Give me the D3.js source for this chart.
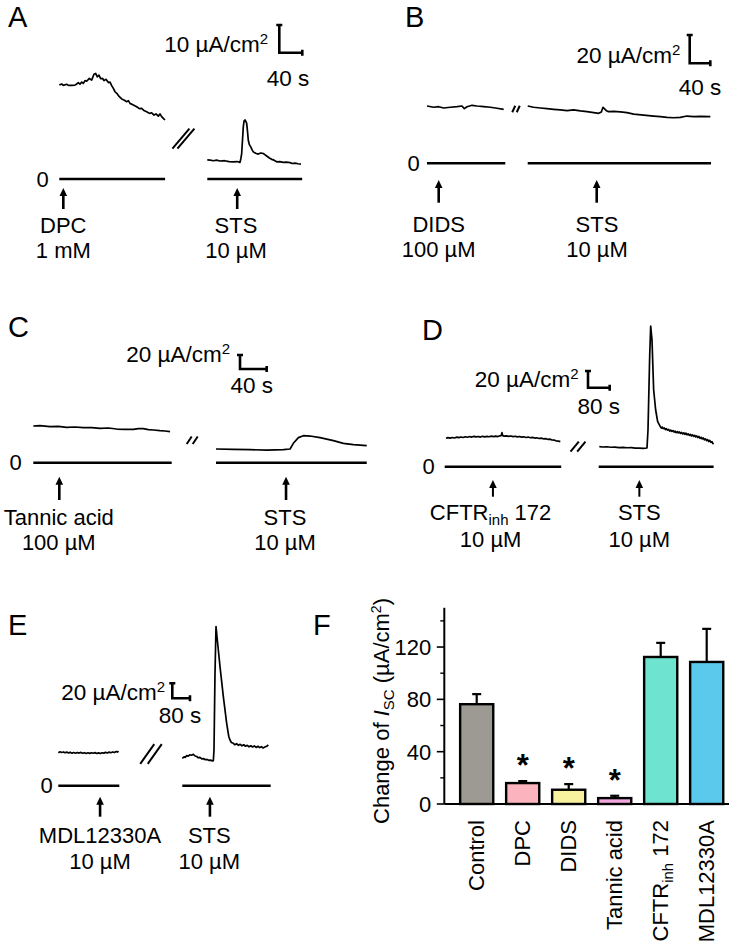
<!DOCTYPE html>
<html><head><meta charset="utf-8">
<script src="https://cdn.jsdelivr.net/npm/d3@7/dist/d3.min.js"></script>
<style>body{margin:0;background:#fff}svg{display:block}</style>
</head><body><svg id="fig" width="735" height="947"></svg>
<script>
// ===== DATA (time s, current µA/cm²) =====
const traceA_DPC = [[0,33.9],[4.1,34.3],[7,33.8],[12.8,34.2],[15.7,33.8],[21.5,33.8],[27.3,33.9],[30.2,34.3],[33.1,34.8],[36,34.2],[38.9,35.0],[41.8,34.5],[44.7,35.5],[47.6,35.3],[52.2,36.3],[56.3,35.7],[60.3,37.8],[63.2,38.1],[66.1,36.9],[69,37.5],[71.9,36.2],[75.4,36.3],[77.7,35.5],[81.2,36.0],[85.3,34.8],[88.2,35.0],[91.1,33.7],[94,32.7],[96.9,31.5],[100.9,30.7],[104.4,29.7],[108.5,28.9],[112.5,28.5],[117.2,27.9],[120.1,28.3],[123,27.3],[128.8,26.7],[134.6,26.1],[139.2,25.4],[143.3,25.5],[147.3,24.7],[151.9,24.3],[156.6,23.7],[160.6,23.9],[164.7,23.1],[168.2,23.5],[172.2,22.7],[175.1,23.5],[178,22.5],[180.9,21.9],[183.8,21.3]];
const traceA_STS = [[0,6.9],[5,6.8],[10.6,6.6],[16,6.8],[22.1,6.5],[30,6.6],[38,6.3],[45.2,6.2],[52,6.3],[56.9,6.0],[58.5,7.5],[59.8,9.2],[61.2,14],[62.6,18.8],[64,21.0],[65.6,21.3],[67,20.8],[68.5,20.1],[70,17],[71.3,14.0],[73,12.5],[75.5,11.6],[78,10.5],[80,9.8],[84,9.3],[88.7,9.0],[93,9.4],[97.4,9.2],[100,8.8],[103.3,8.3],[108,7.6],[112,7.1],[116,6.8],[120.7,6.2],[126,6.3],[132.2,6.0],[138,6.1],[143.8,5.9],[148,5.6],[152.5,5.7],[158,5.5],[162.9,5.4]];
const traceB_DIDS = [[0,40.5],[12.9,39.6],[22.7,40.0],[32.4,39.1],[45.3,39.6],[58.3,40.0],[68,40.5],[72.5,38.6],[77.7,40.0],[87.4,41.0],[97.1,40.5],[110,40.0],[123,39.6],[135.9,38.9],[148.9,38.1]];
const traceB_STS = [[0,40.5],[11.6,39.6],[24.5,39.1],[37.5,38.6],[50.4,38.1],[63.4,37.7],[76.3,37.2],[89.3,37.7],[102.2,37.0],[115.1,36.5],[128.1,35.8],[137.8,35.3],[143,36.3],[146.2,39.6],[148.8,38.6],[152.7,37.2],[157.2,36.5],[166.9,36.7],[179.9,36.3],[192.8,35.8],[205.8,34.8],[225.2,34.1],[244.6,33.4],[257.5,33.0],[270.5,32.5],[283.4,32.2],[296.4,32.5],[309.3,33.4],[322.3,33.0],[335.2,33.2],[354.6,33.0]];
const traceC_TA = [[0,52.4],[10,52.9],[25,51.5],[37.5,52.0],[50,50.5],[62.5,51.0],[75,50.0],[87.5,50.0],[100,49.1],[112.5,49.6],[125,48.1],[137.5,47.7],[150,47.7],[157.5,48.6],[165,48.6],[172.5,47.2],[180,46.7],[190,45.8],[197.5,45.3],[205,44.3]];
const traceC_STS = [[0,19.6],[26,19.1],[51,18.6],[76,18.1],[101,18.6],[111,19.6],[116,27.7],[123.5,35.8],[131,38.6],[141,38.1],[156,35.8],[176,31.5],[191,27.7],[206,25.8],[226,24.3]];
const traceD_CFTR = [[4.8,34.0],[12,34.8],[20,34.2],[28,35.0],[36,34.4],[45,35.4],[52,34.8],[60,35.6],[68,35.0],[76,35.9],[84,35.3],[92,36.1],[100,35.5],[108,36.3],[116,35.7],[124,36.2],[132,35.5],[140,36.4],[148,35.8],[156,36.3],[164,35.9],[172,36.6],[180,36.0],[188,36.7],[196,36.1],[204,37.0],[208,37.2],[211.4,40.8],[214,37.2],[220,36.6],[228,37.0],[236,36.3],[244,36.8],[252,36.0],[260,36.5],[268,35.7],[276,36.2],[284,35.4],[292,35.8],[300,35.0],[308,35.5],[316,34.7],[324,35.1],[332,34.3],[340,34.6],[348,33.8],[356,34.2],[364,33.4],[372,33.6],[380,32.8],[388,33.0],[396,32.0],[404,31.9],[412,30.8],[420,30.6],[426.7,30.0]];
const traceD_STS = [[2.3,24.0],[15,23.6],[30,23.9],[45,23.3],[60,23.4],[75,22.9],[90,23.1],[105,22.7],[120,22.8],[135,22.3],[150,22.3],[165,22.0],[178.2,22.4],[181.9,44.0],[188.1,131.8],[191.8,168.5],[196.7,151.7],[202.8,91.9],[210.2,67.9],[217.6,53.9],[227.4,48.0],[231,46.2],[234,47.5],[238,45.6],[242,46.4],[246,44.5],[250,45.5],[254,43.8],[258,44.6],[262,42.7],[266,43.8],[270,42.2],[274,43.3],[278,41.5],[282,42.6],[286,40.8],[290,42.0],[294,40.4],[298,41.6],[302,39.8],[306,41.0],[310,39.2],[314,40.6],[318,38.8],[322,40.2],[326,38.2],[330,39.4],[334,37.5],[338,38.8],[342,36.8],[346,38.2],[350,36.4],[354,37.6],[358,35.6],[362,36.8],[366,34.8],[370,36.2],[374,34.0],[378,35.2],[382,33.2],[386,34.4],[390,32.2],[394,33.4],[398,31.2],[402,32.4],[406,30.2],[410,31.4],[414,29.2],[418,30.0],[421,28.0],[424.2,27.2]];
const traceE_MDL = [[0,44.0],[8,45.2],[15,44.3],[23,45.0],[30,44.0],[38,44.8],[46,43.7],[54,44.5],[62,43.4],[70,44.2],[78,43.3],[86,44.3],[94,43.5],[102,44.4],[110,43.2],[118,44.0],[126,43.0],[134,43.9],[142,43.1],[150,44.0],[158,43.3],[166,44.1],[174,43.0],[182,43.8],[190,42.9],[198,43.9],[206,43.4],[214,44.4],[222,43.6],[230,44.8],[238,44.0],[246,45.0],[254,44.2],[262,45.6],[268,44.8],[272,46.2]];
const traceE_STS = [[0,36.5],[8,38.5],[14,37.8],[20,40.2],[27,39.4],[34,41.2],[42,40.6],[50,41.8],[58,39.6],[65,39.0],[72,37.2],[80,37.8],[88,35.8],[96,36.2],[104,34.6],[112,35.0],[120,33.8],[128,34.2],[136,33.0],[140.4,33.4],[143.4,47.6],[148,149.8],[152.5,212],[158.5,194.3],[170.6,158.7],[185.7,118.7],[200.8,83.2],[210,66],[215.8,60.9],[222,57.6],[230.9,56.5],[238,54.6],[246,56.0],[254,53.8],[262,55.2],[270,53.2],[278,54.6],[286,52.6],[294,53.8],[302,51.8],[310,53.2],[318,51.6],[326,53.0],[334,51.0],[342,52.6],[350,50.8],[358,52.0],[366,50.3],[374,51.8],[382,52.6],[389.3,54.3]];
const segDurations = [[184,165],[152,356],[207.5,226],[430,424],[276,400]];
const arrowTimes = [[7,52],[22.7,134],[39,105],[178,150],[189,125]];
const scaleBarAmp = [10,20,20,20,20];
const scaleBarTime = [40,40,40,80,80];
const drugNames = ["DPC","DIDS","Tannic acid","CFTR|inh| 172","MDL12330A"];
const drugDoses = ["1 mM","100 µM","100 µM","10 µM","10 µM"];

// Panel F
const categories = ["Control","DPC","DIDS","Tannic acid","CFTR|inh| 172","MDL12330A"];
const meanValues = [76.3,16,10.9,4.5,112.4,108.6];
const errorTops = [84.0,17.5,15.2,6.3,123.2,133.9];
const significant = [false,true,true,true,false,false];
const barColors = ["#9d9993","#fbb4bd","#f8f19d","#f2a8de","#6ee3cf","#5bc9ec"];
const yTicksMajor = [0,40,80,120];
const yTicksMinor = [20,60,100,140];

// ===== DRAWING =====
const FONT = "'Liberation Sans', Arial, Helvetica, sans-serif";
const svg = d3.select('#fig').attr('font-family', FONT);
const FS = 22;

function richText(sel, str) {
  const parts = str.split('|');
  parts.forEach((p, i) => {
    if (!p) return;
    if (i % 2 === 1) {
      sel.append('tspan').attr('font-size', FS * 0.68).attr('dy', 5).text(p);
    } else {
      const t = sel.append('tspan').text(p);
      if (i > 0) t.attr('dy', -5);
    }
  });
}

const layouts = [
  {letter:'A', lx:8, ly:27, zeroY:179, ppu:2.77, pps:0.575, x0:[59.3,207.3], zx:42.7,
   arrowTop:9, arrowBot:30, lab1:54, lab2:79, labX:[63.3,236], sb:[279.3,52.7], sbTextX:268, sbTextY:52, sbT:[288,86],
   brk:{cx:183.4,cy:138.7,dx:17,dy:-20,gap:5}, arrowW:2.6},
  {letter:'B', lx:405, ly:27, zeroY:163.3, ppu:1.415, pps:0.515, x0:[427,527.7], zx:413.7,
   arrowTop:16.7, arrowBot:39.4, lab1:68.4, lab2:93.4, labX:[438.7,597], sb:[689.7,63.3], sbTextX:680.3, sbTextY:63, sbT:[700,95],
   brk:{cx:516,cy:109,dx:3,dy:-6.5,gap:4.5}, arrowW:2.6},
  {letter:'C', lx:8, ly:337, zeroY:462.7, ppu:0.7, pps:0.667, x0:[33.3,216], zx:15.7,
   arrowTop:14, arrowBot:37.3, lab1:62.3, lab2:87.3, labX:[58.8,285], sb:[240,369], sbTextX:230, sbTextY:361.7, sbT:[251.7,393],
   brk:{cx:192.2,cy:440.3,dx:5,dy:-7.5,gap:6}, arrowW:2.6},
  {letter:'D', lx:422, ly:340, zeroY:466.7, ppu:0.835, pps:0.271, x0:[444.7,598.7], zx:428.7,
   arrowTop:13.3, arrowBot:30, lab1:53.3, lab2:80, labX:[490.6,639.3], sb:[588,387.7], sbTextX:578.7, sbTextY:386.7, sbT:[598.7,414],
   brk:{cx:578,cy:446.7,dx:8.3,dy:-10,gap:6.7}, arrowW:2},
  {letter:'E', lx:8, ly:635, zeroY:785.7, ppu:0.75, pps:0.221, x0:[58.3,182.3], zx:46.7,
   arrowTop:11, arrowBot:31, lab1:57.6, lab2:83.6, labX:[100,209.3], sb:[172.3,698.3], sbTextX:165, sbTextY:700, sbT:[180,723.3],
   brk:{cx:151,cy:754,dx:14,dy:-19.7,gap:7.5}, arrowW:2.6}
];
const traces = [[traceA_DPC,traceA_STS],[traceB_DIDS,traceB_STS],[traceC_TA,traceC_STS],[traceD_CFTR,traceD_STS],[traceE_MDL,traceE_STS]];

layouts.forEach((L, pi) => {
  const g = svg.append('g');
  g.append('text').attr('x', L.lx).attr('y', L.ly).attr('font-size', 29).text(L.letter);
  const y = d3.scaleLinear().domain([0, 100]).range([L.zeroY, L.zeroY - 100 * L.ppu]);
  const line = d3.line();
  const durs = segDurations[pi];
  durs.forEach((dur, si) => {
    const x = d3.scaleLinear().domain([0, dur]).range([L.x0[si], L.x0[si] + dur * L.pps]);
    g.append('line').attr('x1', x(0)).attr('x2', x(dur)).attr('y1', y(0)).attr('y2', y(0))
      .attr('stroke', '#000').attr('stroke-width', 2.6);
    g.append('path').attr('d', line(traces[pi][si].map(d => [x(d[0]), y(d[1])])))
      .attr('fill', 'none').attr('stroke', '#000').attr('stroke-width', 1.7).attr('stroke-linejoin', 'round');
    const ax = x(arrowTimes[pi][si]);
    const top = y(0) + L.arrowTop, bot = y(0) + L.arrowBot;
    g.append('line').attr('x1', ax).attr('x2', ax).attr('y1', bot).attr('y2', top + 6)
      .attr('stroke', '#000').attr('stroke-width', L.arrowW);
    g.append('path').attr('d', `M${ax},${top}L${ax-3.8},${top+8}L${ax+3.8},${top+8}Z`).attr('fill', '#000');
    const lx = L.labX[si];
    const t1 = g.append('text').attr('x', lx).attr('y', y(0) + L.lab1).attr('text-anchor', 'middle').attr('font-size', FS);
    if (si === 0) richText(t1, drugNames[pi]); else t1.text('STS');
    g.append('text').attr('x', lx).attr('y', y(0) + L.lab2).attr('text-anchor', 'middle').attr('font-size', FS)
      .text(si === 0 ? drugDoses[pi] : '10 µM');
  });
  g.append('text').attr('x', L.zx).attr('y', y(0) + 7.5).attr('text-anchor', 'middle').attr('font-size', FS).text('0');
  const b = L.brk;
  [-1, 1].forEach(s => {
    const o = s * b.gap / 2;
    g.append('line').attr('x1', b.cx - b.dx / 2 + o).attr('y1', b.cy - b.dy / 2)
      .attr('x2', b.cx + b.dx / 2 + o).attr('y2', b.cy + b.dy / 2)
      .attr('stroke', '#000').attr('stroke-width', 2);
  });
  const [sx, sy] = L.sb;
  const vy = sy - (y(0) - y(scaleBarAmp[pi]));
  const hx = sx + scaleBarTime[pi] * L.pps;
  g.append('path').attr('d', `M${sx-3},${vy}H${sx+3}M${sx},${vy}V${sy}H${hx}M${hx},${sy-3}V${sy+3}`)
    .attr('fill', 'none').attr('stroke', '#000').attr('stroke-width', 2.6);
  const st = g.append('text').attr('x', L.sbTextX).attr('y', L.sbTextY).attr('text-anchor', 'end').attr('font-size', 22.5);
  st.append('tspan').text(scaleBarAmp[pi] + ' µA/cm');
  st.append('tspan').attr('font-size', 15).attr('dy', -8).text('2');
  g.append('text').attr('x', L.sbT[0]).attr('y', L.sbT[1]).attr('text-anchor', 'middle').attr('font-size', 22.5)
    .text(scaleBarTime[pi] + ' s');
});

// ===== Panel F =====
const gF = svg.append('g');
gF.append('text').attr('x', 313).attr('y', 635).attr('font-size', 29).text('F');
const axX = 444.3;
const yF = d3.scaleLinear().domain([0, 150]).range([804, 607.8]);
const xF = d3.scaleBand().domain(categories).range([453.7, 729.7]).paddingInner(0.28).paddingOuter(0.14);

categories.forEach((c, i) => {
  const x0 = xF(c), w = xF.bandwidth(), cx = x0 + w / 2;
  gF.append('line').attr('x1', cx).attr('x2', cx).attr('y1', yF(meanValues[i])).attr('y2', yF(errorTops[i]))
    .attr('stroke', '#000').attr('stroke-width', 2.2);
  gF.append('line').attr('x1', cx - 4.5).attr('x2', cx + 4.5).attr('y1', yF(errorTops[i])).attr('y2', yF(errorTops[i]))
    .attr('stroke', '#000').attr('stroke-width', 2.2);
  gF.append('rect').attr('x', x0).attr('y', yF(meanValues[i])).attr('width', w)
    .attr('height', yF(0) - yF(meanValues[i])).attr('fill', barColors[i]).attr('stroke', '#000').attr('stroke-width', 2.4);
  if (significant[i]) {
    gF.append('text').attr('x', cx).attr('y', yF(errorTops[i]) - 5).attr('text-anchor', 'middle')
      .attr('font-size', 31).attr('font-weight', 'bold').text('*');
  }
  const lt = gF.append('text').attr('transform', `translate(${cx + 7.5},${820}) rotate(-90)`)
    .attr('text-anchor', 'end').attr('font-size', FS);
  richText(lt, c);
});
gF.append('line').attr('x1', axX).attr('x2', axX).attr('y1', yF(150)).attr('y2', yF(0)).attr('stroke', '#000').attr('stroke-width', 2);
gF.append('line').attr('x1', axX).attr('x2', 729).attr('y1', yF(0)).attr('y2', yF(0)).attr('stroke', '#000').attr('stroke-width', 2);
yTicksMajor.forEach(v => {
  gF.append('line').attr('x1', axX - 7.5).attr('x2', axX).attr('y1', yF(v)).attr('y2', yF(v)).attr('stroke', '#000').attr('stroke-width', 1.6);
  gF.append('text').attr('x', axX - 13).attr('y', yF(v) + 8).attr('text-anchor', 'end').attr('font-size', FS).text(v);
});
yTicksMinor.forEach(v => {
  gF.append('line').attr('x1', axX - 4).attr('x2', axX).attr('y1', yF(v)).attr('y2', yF(v)).attr('stroke', '#000').attr('stroke-width', 1.4);
});
const yl = gF.append('text').attr('transform', 'translate(389,711) rotate(-90)').attr('text-anchor', 'middle').attr('font-size', FS);
yl.append('tspan').text('Change of ');
yl.append('tspan').attr('font-style', 'italic').text('I');
yl.append('tspan').attr('font-size', 15).attr('dy', 5).text('SC');
yl.append('tspan').attr('dy', -5).text(' (µA/cm');
yl.append('tspan').attr('font-size', 14).attr('dy', -8).text('2');
yl.append('tspan').attr('dy', 8).text(')');
</script></body></html>
